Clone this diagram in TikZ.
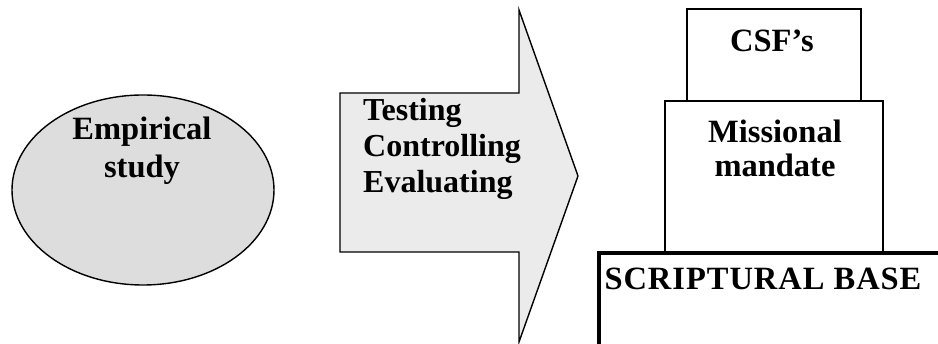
\documentclass[tikz,border=0pt]{standalone}
\usepackage{fontspec}
\setmainfont{Liberation Serif}
\usetikzlibrary{shapes.geometric}
\definecolor{ellfill}{HTML}{DDDDDD}
\definecolor{arrfill}{HTML}{EBEBEB}
\begin{document}
\begin{tikzpicture}[x=1pt,y=1pt,
  lbl/.style={font=\fontsize{32.5}{38}\selectfont\bfseries, inner sep=0pt, align=center},
  lblm/.style={font=\fontsize{32.5}{34}\selectfont\bfseries, inner sep=0pt, align=center},
  lbll/.style={font=\fontsize{32}{36}\selectfont\bfseries, inner sep=0pt, align=left},
  thin/.style={draw=black, line width=1.4pt},
  base/.style={draw=black, line width=3.5pt}]
\useasboundingbox (0,0) rectangle (938,344);
\node[ellipse, thin, fill=ellfill, minimum width=262pt, minimum height=190pt, inner sep=0pt] (emp) at (143,154) {};
\node[lbl, anchor=base] (emptext) at (142,166) {Empirical\\study};
\draw[thin, fill=arrfill] (340,251) -- (519,251) -- (519,334) -- (578,168) -- (519,2) -- (519,92) -- (340,92) -- cycle;
\node[lbll, anchor=base west] (arrtext) at (363,151) {Testing\\Controlling\\Evaluating};
\node[thin, fill=white, minimum width=174pt, minimum height=92pt, inner sep=0pt] (csf) at (774,289) {};
\node[lbl, anchor=base] (csftext) at (772,292) {CSF’s};
\node[thin, fill=white, minimum width=218pt, minimum height=152pt, inner sep=0pt] (mis) at (774,167) {};
\node[lblm, anchor=base] (mistext) at (775,167) {Missional\\mandate};
\coordinate (b1) at (599,0);
\coordinate (b2) at (599,91);
\coordinate (b3) at (938,91);
\draw[base] (b1) -- (b2) -- (b3);
\node[lbl, anchor=base] (basetext) at (763,54) {\addfontfeatures{LetterSpace=3}SCRIPTURAL BASE};
\end{tikzpicture}
\end{document}
